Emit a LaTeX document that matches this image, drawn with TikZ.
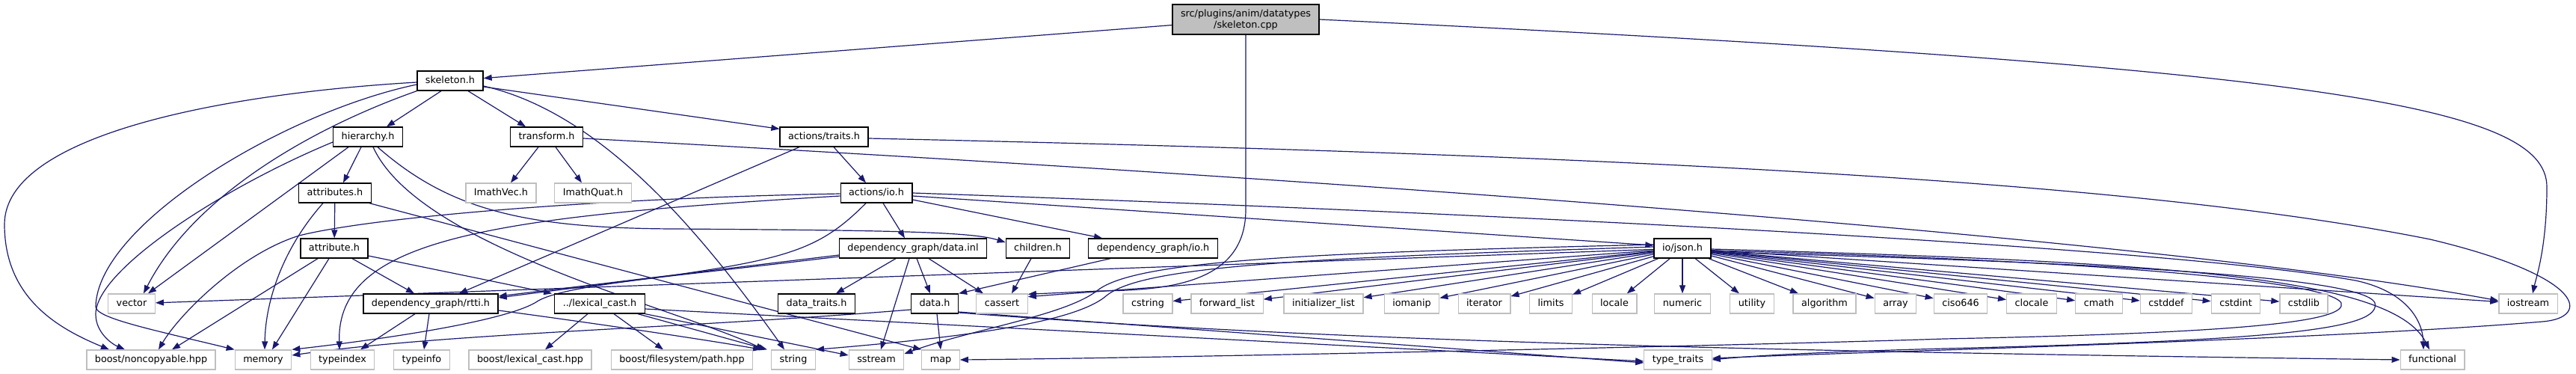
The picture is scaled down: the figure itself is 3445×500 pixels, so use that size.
\documentclass[tikz,border=0pt]{standalone}
\usepackage{fontspec}
\setmainfont{DejaVu Sans}
\usetikzlibrary{arrows.meta}
\pgfdeclarelayer{back}
\pgfdeclarelayer{bg}
\pgfsetlayers{back,bg,main}
\definecolor{edgec}{HTML}{191970}
\definecolor{grayb}{HTML}{BFBFBF}
\begin{document}
\begin{tikzpicture}[x=1pt,y=-1pt,
  nd/.style={draw=black, line width=1.3pt, fill=white, font=\fontsize{12.8}{15}\selectfont,
    inner xsep=11pt, inner ysep=0pt, minimum height=26pt, text height=9.4pt, text depth=2.6pt},
  sysn/.style={nd, draw=grayb},
  root/.style={draw=black, line width=1.3pt, fill=grayb, font=\fontsize{12.8}{15}\selectfont,
    inner xsep=11pt, inner ysep=4pt, minimum height=40pt, align=center},
  e/.style={draw=edgec, line width=1.2pt, -{Triangle[length=11pt,width=8pt]}}]
\useasboundingbox (0,0) rectangle (3445,500);
\begin{pgfonlayer}{back}
\fill[white] (0,0) rectangle (3445,500);
\end{pgfonlayer}

% ---- nodes
\node[root] (cpp) at (1666,26) {src/plugins/anim/datatypes\\/skeleton.cpp};
\node[nd] (skel) at (602,108) {skeleton.h};
\node[nd] (hier) at (492,183) {hierarchy.h};
\node[nd] (trans) at (731,183) {transform.h};
\node[nd] (atraits) at (1102,183) {actions/traits.h};
\node[nd] (attrs) at (448,258) {attributes.h};
\node[sysn] (ivec) at (670,258) {ImathVec.h};
\node[sysn] (iquat) at (793,258) {ImathQuat.h};
\node[nd] (aio) at (1172,258) {actions/io.h};
\node[nd] (attr) at (447,332) {attribute.h};
\node[nd] (dginl) at (1221,332) {dependency\_graph/data.inl};
\node[nd] (children) at (1388,332) {children.h};
\node[nd] (dgio) at (1542,332) {dependency\_graph/io.h};
\node[nd] (json) at (2250,332) {io/json.h};
\node[sysn] (vector) at (176,406) {vector};
\node[nd] (rtti) at (576,406) {dependency\_graph/rtti.h};
\node[nd] (lexcast) at (802,406) {../lexical\_cast.h};
\node[nd] (dtraits) at (1092,406) {data\_traits.h};
\node[nd] (datah) at (1250,406) {data.h};
\node[sysn] (cassert) at (1340,406) {cassert};
\node[sysn] (cstring) at (1535,406) {cstring};
\node[sysn] (fwdlist) at (1641,406) {forward\_list};
\node[sysn] (initlist) at (1770,406) {initializer\_list};
\node[sysn] (iomanip) at (1888,406) {iomanip};
\node[sysn] (iterator) at (1985,406) {iterator};
\node[sysn] (limits) at (2074,406) {limits};
\node[sysn] (locale) at (2159,406) {locale};
\node[sysn] (numeric) at (2250,406) {numeric};
\node[sysn] (utility) at (2343,406) {utility};
\node[sysn] (algorithm) at (2440,406) {algorithm};
\node[sysn] (array) at (2535,406) {array};
\node[sysn] (ciso) at (2622,406) {ciso646};
\node[sysn] (clocale) at (2717,406) {clocale};
\node[sysn] (cmath) at (2807,406) {cmath};
\node[sysn] (cstddef) at (2897,406) {cstddef};
\node[sysn] (cstdint) at (2990,406) {cstdint};
\node[sysn] (cstdlib) at (3081,406) {cstdlib};
\node[sysn] (iostream) at (3381,406) {iostream};
\node[sysn] (noncopy) at (202,481) {boost/noncopyable.hpp};
\node[sysn] (memory) at (352,481) {memory};
\node[sysn] (typeindex) at (458,481) {typeindex};
\node[sysn] (typeinfo) at (564,481) {typeinfo};
\node[sysn] (blexcast) at (709,481) {boost/lexical\_cast.hpp};
\node[sysn] (bfs) at (912,481) {boost/filesystem/path.hpp};
\node[sysn] (string) at (1061,481) {string};
\node[sysn] (sstream) at (1172,481) {sstream};
\node[sysn] (map) at (1258,481) {map};
\node[sysn] (typetraits) at (2244,481) {type\_traits};
\node[sysn] (functional) at (3253,481) {functional};

% ---- edges
\begin{pgfonlayer}{bg}
% skeleton.cpp
\draw[e] (cpp) -- (skel);
\draw[e] (cpp.east) .. controls (3100,90) and (3406,140) .. (3406,250) .. controls (3406,330) and (3392,370) .. ([xshift=6pt]iostream.north);
\draw[e] (cpp.south) -- (1666,280) .. controls (1666,380) and (1560,388) .. (1470,389) -- (cassert.20);
% skeleton.h
\draw[e] ([xshift=-12pt]skel.south) -- ([xshift=25pt]hier.north);
\draw[e] ([xshift=24pt]skel.south) -- ([xshift=-28pt]trans.north);
\draw[e] ([yshift=-8pt]skel.east) -- ([yshift=-3pt]atraits.north west);
\draw[e] ([yshift=-2pt]skel.west) .. controls (300,125) and (6,180) .. (6,300) .. controls (6,400) and (80,440) .. ([xshift=-56pt]noncopy.north);
\draw[e] (skel.south west) .. controls (420,170) and (260,260) .. ([xshift=16pt]vector.north);
\draw[e] ([yshift=-5pt]skel.west) .. controls (380,150) and (130,300) .. (128,410) .. controls (128,425) and (200,440) .. (memory.north west);
\draw[e] ([yshift=-7pt]skel.east) .. controls (800,150) and (930,300) .. ([xshift=-12pt]string.north);
% hierarchy.h
\draw[e] ([yshift=-7pt]hier.west) .. controls (300,250) and (128,360) .. (128,420) .. controls (128,445) and (150,460) .. ([xshift=-35pt]noncopy.north);
\draw[e] ([xshift=-26pt]hier.south) -- ([xshift=22pt]vector.north);
\draw[e] ([xshift=-9pt]hier.south) -- ([xshift=11pt]attrs.north);
\draw[e] ([xshift=7pt]hier.south) .. controls (560,330) and (900,410) .. ([xshift=-39pt]string.north);
\draw[e] ([xshift=13pt]hier.south) .. controls (600,280) and (700,305) .. (900,306) .. controls (1200,308) and (1300,310) .. ([yshift=8pt]children.west);
% transform.h
\draw[e] ([xshift=-11pt]trans.south) -- ([xshift=13pt]ivec.north);
\draw[e] ([xshift=12pt]trans.south) -- ([xshift=-15pt]iquat.north);
\draw[e] ([yshift=-2pt]trans.east) .. controls (1800,240) and (2900,320) .. ([yshift=4pt]iostream.west);
% actions/traits.h
\draw[e] ([xshift=13pt]atraits.south) -- ([xshift=-14pt]aio.north);
\draw[e] ([xshift=-33pt]atraits.south) -- ([xshift=38pt]rtti.north);
\draw[e] ([yshift=-2pt]atraits.east) .. controls (2300,210) and (2900,250) .. (3250,320) .. controls (3460,370) and (3465,425) .. (3400,430) .. controls (3100,455) and (2500,470) .. ([yshift=2pt]typetraits.east);
% attributes.h
\draw[e] (attrs) -- (attr);
\draw[e] ([xshift=-16pt]attrs.south) .. controls (380,330) and (355,400) .. ([xshift=2pt]memory.north);
\draw[e] ([xshift=46pt]attrs.south) -- (map.north west);
% actions/io.h
\draw[e] ([xshift=9pt]aio.south) -- ([xshift=-11pt]dginl.north);
\draw[e] ([yshift=-9pt]aio.east) -- ([xshift=-68pt]dgio.north);
\draw[e] ([yshift=-4pt]aio.east) -- ([yshift=4pt]json.west);
\draw[e] (aio.east) .. controls (2000,285) and (2900,330) .. (3150,375) .. controls (3220,390) and (3240,430) .. ([xshift=-12pt]functional.north);
\draw[e] ([yshift=-1pt]aio.west) .. controls (800,265) and (500,290) .. (400,315) .. controls (320,340) and (240,420) .. ([xshift=10pt]noncopy.north);
\draw[e] ([yshift=-4pt]aio.west) .. controls (650,290) and (450,320) .. ([xshift=-4pt]typeindex.north);
\draw[e] ([xshift=-14pt]aio.south) .. controls (1100,330) and (1060,345) .. (900,368) -- ([yshift=8pt]rtti.east);
% attribute.h
\draw[e] ([xshift=-22pt]attr.south) -- ([xshift=28pt]noncopy.north);
\draw[e] ([xshift=-7pt]attr.south) -- ([xshift=12pt]memory.north);
\draw[e] ([xshift=24pt]attr.south) -- ([xshift=-22pt]rtti.north);
\draw[e] ([yshift=-10pt]attr.east) -- ([xshift=-3pt]lexcast.north west);
% rtti.h
\draw[e] ([xshift=-21pt]rtti.south) -- ([xshift=24pt]typeindex.north);
\draw[e] ([xshift=-2pt]rtti.south) -- ([xshift=3pt]typeinfo.north);
\draw[e] ([yshift=-9pt]rtti.east) .. controls (780,430) and (950,455) .. ([xshift=-43pt]string.north);
% lexical_cast.h
\draw[e] ([xshift=-16pt]lexcast.south) -- ([xshift=20pt]blexcast.north);
\draw[e] ([xshift=19pt]lexcast.south) -- ([xshift=-25pt]bfs.north);
\draw[e] ([xshift=51pt]lexcast.south) -- ([xshift=-35pt]string.north);
\draw[e] (lexcast.south east) -- ([yshift=6pt]sstream.west);
\draw[e] ([yshift=-7pt]lexcast.east) -- ([yshift=-2pt]typetraits.west);
% data.inl
\draw[e] ([xshift=-23pt]dginl.south) -- ([xshift=26pt]dtraits.north);
\draw[e] ([xshift=-5pt]dginl.south) -- ([xshift=6pt]sstream.north);
\draw[e] ([xshift=5pt]dginl.south) -- ([xshift=-6pt]datah.north);
\draw[e] ([xshift=21pt]dginl.south) -- ([xshift=-25pt]cassert.north);
\draw[e] ([yshift=-9pt]dginl.west) -- ([yshift=10pt]rtti.east);
\draw[e] ([yshift=-11pt]dginl.west) .. controls (900,370) and (760,380) .. (720,402) .. controls (680,430) and (500,455) .. (memory.north east);
% children.h, dependency_graph/io.h
\draw[e] ([xshift=-9pt]children.south) -- ([xshift=13pt]cassert.north);
\draw[e] ([xshift=-57pt]dgio.south) -- (datah.north east);
% data.h
\draw[e] ([yshift=-8pt]datah.west) .. controls (900,440) and (600,445) .. ([yshift=6pt]memory.east);
\draw[e] ([xshift=3pt]datah.south) -- (map.north);
\draw[e] ([yshift=-11pt]datah.east) -- ([yshift=-4pt]typetraits.west);
\draw[e] ([yshift=-12pt]datah.east) .. controls (1800,458) and (2400,470) .. (functional.west);
% io/json.h
\foreach \x in {cstring, fwdlist, initlist, iomanip, iterator, limits, locale, numeric, utility, algorithm, array, ciso, clocale, cmath, cstddef, cstdint, cstdlib, iostream}
  \draw[e] (json) -- (\x);
\draw[e] (json) -- (cassert.15);
\draw[e] (json) -- (vector);
\draw[e] ([yshift=2pt]json.west) .. controls (1750,345) and (1530,355) .. (1480,395) .. controls (1440,430) and (1300,450) .. (string.north east);
\draw[e] ([yshift=5pt]json.west) .. controls (1750,338) and (1520,348) .. (1468,388) .. controls (1425,422) and (1300,440) .. ([yshift=8pt]sstream.east);
\draw[e] ([yshift=-3pt]json.east) .. controls (2700,345) and (3110,370) .. (3131,405) .. controls (3140,430) and (3000,445) .. (2600,453) .. controls (2400,460) and (1600,478) .. (map.east);
\draw[e] ([yshift=-5pt]json.east) .. controls (2700,348) and (3160,365) .. (3176,405) .. controls (3185,440) and (3050,455) .. (2600,466) .. controls (2450,470) and (2350,475) .. (typetraits.east);
\draw[e] ([yshift=-1pt]json.east) .. controls (2900,350) and (3200,370) .. ([xshift=-4pt]functional.north);
\end{pgfonlayer}
\end{tikzpicture}
\end{document}
